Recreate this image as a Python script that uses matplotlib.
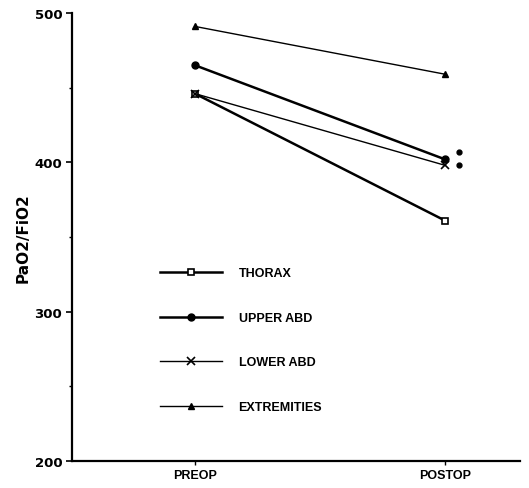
import matplotlib
matplotlib.use("Agg")
import matplotlib.pyplot as plt
from matplotlib import font_manager
from matplotlib.transforms import offset_copy

categories = ["PREOP", "POSTOP"]
series_names = ["THORAX", "UPPER ABD", "LOWER ABD", "EXTREMITIES"]
thorax = [446, 361]
upper_abd = [465, 402]
lower_abd = [446, 398]
extremities = [491, 459]
yticks = [200, 300, 400, 500]
minor_yticks = [250, 350, 450]

names = {f.name for f in font_manager.fontManager.ttflist}
narrow = "Liberation Sans Narrow" if "Liberation Sans Narrow" in names else "Liberation Sans"

fig = plt.figure(figsize=(5.29, 4.89), dpi=100)
ax = fig.add_axes([0.136, 0.0552, 0.847, 0.9162])

x = list(range(len(categories)))
styles = [
    dict(marker="s", mfc="white", mec="black", ms=5, lw=1.8, mew=1.2),
    dict(marker="o", mfc="black", mec="black", ms=5, lw=1.8),
    dict(marker="x", mfc="black", mec="black", ms=6, lw=1.0, mew=1.2),
    dict(marker="^", mfc="black", mec="black", ms=5, lw=1.0),
]
for vals, name, st in zip([thorax, upper_abd, lower_abd, extremities], series_names, styles):
    ax.plot(x, vals, color="black", label=name, **st)

# significance markers next to POSTOP values
tr_up = offset_copy(ax.transData, fig=fig, x=10, y=5, units="points")
tr_lo = offset_copy(ax.transData, fig=fig, x=10, y=0, units="points")
ax.plot([x[1]], [upper_abd[1]], "o", color="black", ms=3.5, transform=tr_up)
ax.plot([x[1]], [lower_abd[1]], "o", color="black", ms=3.5, transform=tr_lo)

ax.set_xlim(-0.492, 1.3)
ax.set_ylim(200, 500)
ax.set_yticks(yticks)
ax.set_yticks(minor_yticks, minor=True)
ax.set_yticklabels([str(t) for t in yticks], fontweight="bold", fontsize=9.5,
                   family="DejaVu Sans")
ax.set_xticks(x)
ax.set_xticklabels(categories, family=narrow, fontsize=9, fontweight="bold")
ax.tick_params(axis="y", which="major", length=4, width=1.2, direction="out", pad=3)
ax.tick_params(axis="y", which="minor", length=2, width=1, direction="out")
ax.tick_params(axis="x", length=3, width=1, direction="out", pad=3)

for s in ["top", "right"]:
    ax.spines[s].set_visible(False)
ax.spines["left"].set_linewidth(1.6)
ax.spines["bottom"].set_linewidth(1.6)

ax.set_ylabel("PaO2/FiO2", fontweight="bold", fontsize=11, labelpad=3)

leg = ax.legend(loc="upper left", bbox_to_anchor=(0.196, 0.432), frameon=False,
                handlelength=5.0, handletextpad=1.3, labelspacing=2.6,
                borderpad=0, borderaxespad=0,
                prop=dict(family=narrow, weight="bold", size=9))

fig.savefig("out.png", dpi=100)
